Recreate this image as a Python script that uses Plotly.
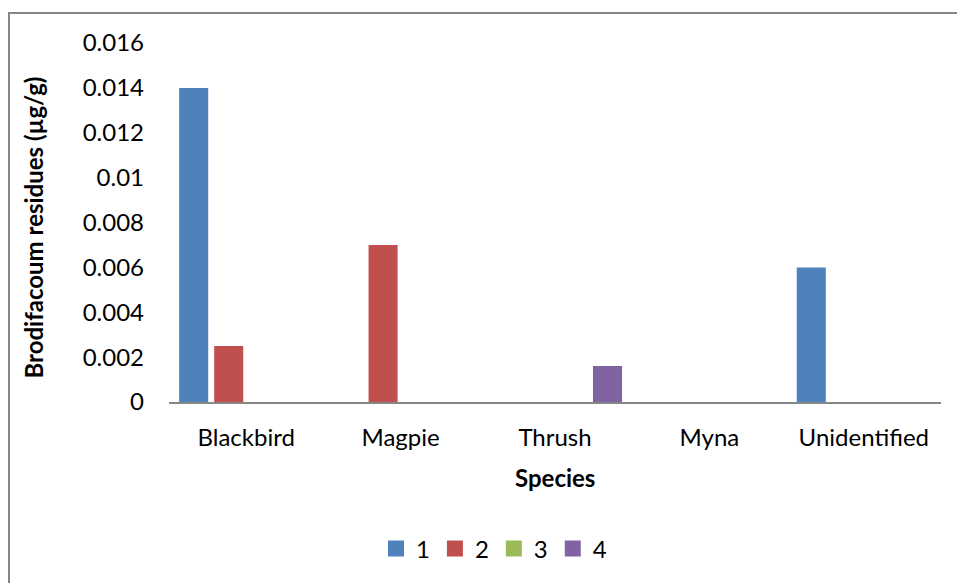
import plotly.graph_objects as go

categories = ["Blackbird", "Magpie", "Thrush", "Myna", "Unidentified"]
series_names = ["1", "2", "3", "4"]
s1 = [0.014, 0, 0, 0, 0.006]
s2 = [0.0025, 0.007, 0, 0, 0]
s3 = [0, 0, 0, 0, 0]
s4 = [0, 0, 0.0016, 0, 0]
colors = ["#4F81BD", "#C0504D", "#9BBB59", "#8064A2"]
y_ticks = [0, 0.002, 0.004, 0.006, 0.008, 0.01, 0.012, 0.014, 0.016]
y_ticktext = ["0", "0.002", "0.004", "0.006", "0.008", "0.01", "0.012", "0.014", "0.016"]

W, H = 957, 583
L, R, T, B = 169, 16, 43, 181
pw, ph = W - L - R, H - T - B

def px_x(x):
    return (x - L) / pw

def px_y(y):
    return (H - B - y) / ph

font = "Lato, 'Open Sans', sans-serif"

fig = go.Figure()
for name, vals, c in zip(series_names, [s1, s2, s3, s4], colors):
    fig.add_trace(go.Bar(x=categories, y=vals, name=name, legendgroup=name, showlegend=False,
                         marker=dict(color=c, line=dict(width=0))))
for name, c in zip(series_names, colors):
    fig.add_trace(go.Scatter(x=[None], y=[None], mode="markers", name=name, legendgroup=name,
                             marker=dict(symbol="square", size=16, color=c), showlegend=True))

fig.update_layout(
    width=W, height=H,
    margin=dict(l=L, r=R, t=T, b=B),
    paper_bgcolor="white", plot_bgcolor="white",
    barmode="group", bargap=0.093, bargroupgap=0.17,
    font=dict(family=font, color="black", size=24),
    legend=dict(orientation="h", x=px_x(494), xanchor="center", y=px_y(549), yanchor="middle",
                font=dict(size=24), itemwidth=30, tracegroupgap=0, itemsizing="trace"),
    showlegend=True,
)
fig.update_xaxes(showline=True, linecolor="#868686", linewidth=2, ticks="", showgrid=False,
                 tickfont=dict(size=24), ticklabelstandoff=13)
fig.update_yaxes(range=[0, 0.016], tickvals=y_ticks, ticktext=y_ticktext, showline=False, showgrid=False,
                 zeroline=False, ticks="", tickfont=dict(size=24), ticklabelstandoff=24)

fig.add_annotation(text="<b>Brodifacoum residues (µg/g)</b>", xref="paper", yref="paper",
                   x=px_x(33), y=px_y(227.5), xanchor="center", yanchor="middle", textangle=-90,
                   showarrow=False, font=dict(size=24, family=font))
fig.add_annotation(text="<b>Species</b>", xref="paper", yref="paper",
                   x=0.5, y=px_y(478), xanchor="center", yanchor="middle",
                   showarrow=False, font=dict(size=24, family=font))

fig.add_shape(type="rect", xref="paper", yref="paper",
              x0=px_x(9), y0=px_y(13), x1=px_x(1100), y1=px_y(800),
              line=dict(color="#868686", width=2), fillcolor="rgba(0,0,0,0)", layer="below")

fig.write_html("out.html")
